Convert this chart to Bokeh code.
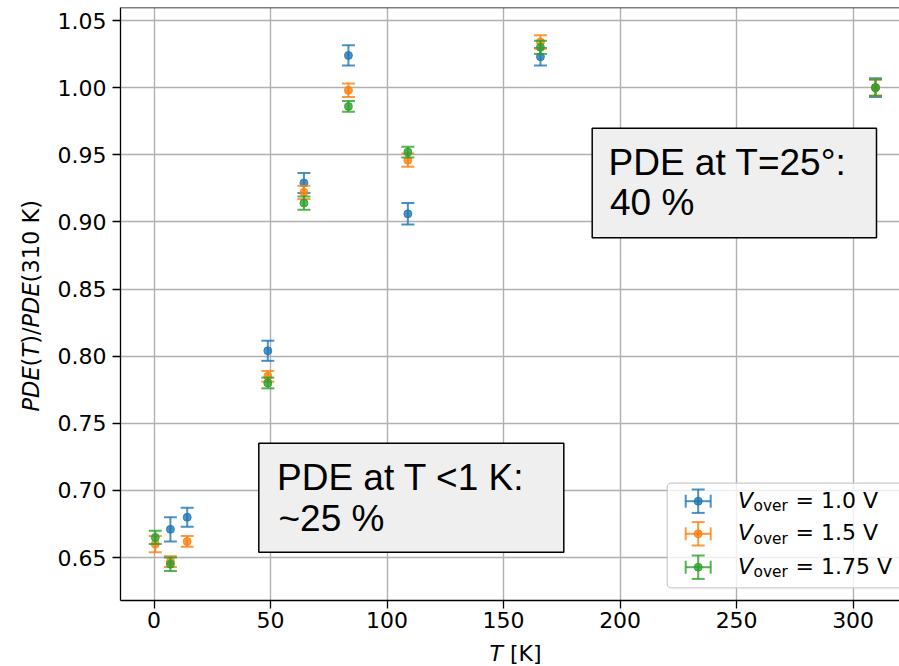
import numpy as np
from bokeh.plotting import figure
from bokeh.layouts import column, row
from bokeh.models import Label, BoxAnnotation, Span, FixedTicker, Range1d
from bokeh.embed import file_html
from bokeh.resources import INLINE

# ---------------- data ----------------
T_blue = [7.0, 14.2, 48.8, 64.3, 83.4, 108.9, 165.8, 309.6]
pde_blue = [0.671, 0.680, 0.804, 0.929, 1.024, 0.906, 1.023, 1.000]
err_blue = [0.009, 0.007, 0.0075, 0.0075, 0.0075, 0.008, 0.0065, 0.007]

T_orange = [0.5, 7.0, 14.2, 48.8, 64.3, 83.4, 108.9, 165.8, 309.6]
pde_orange = [0.660, 0.647, 0.662, 0.785, 0.922, 0.998, 0.946, 1.034, 1.000]
err_orange = [0.006, 0.004, 0.004, 0.004, 0.005, 0.005, 0.005, 0.005, 0.006]

T_green = [0.5, 7.0, 48.8, 64.3, 83.4, 108.9, 165.8, 309.6]
pde_green = [0.665, 0.645, 0.780, 0.914, 0.986, 0.952, 1.030, 1.000]
err_green = [0.005, 0.005, 0.004, 0.005, 0.004, 0.004, 0.005, 0.006]

series_names = ["1.0 V", "1.5 V", "1.75 V"]
series_colors = ["#1f77b4", "#ff7f0e", "#2ca02c"]

x_ticks = [0, 50, 100, 150, 200, 250, 300]
y_ticks = [0.65, 0.70, 0.75, 0.80, 0.85, 0.90, 0.95, 1.00, 1.05]
y_tick_labels = ["0.65", "0.70", "0.75", "0.80", "0.85", "0.90", "0.95", "1.00", "1.05"]

box1_lines = ["PDE at T=25°:", "40 %"]
box2_lines = ["PDE at T <1 K:", "~25 %"]

# ---------------- layout ----------------
W, H = 899, 666
LW = 45            # width of the y-label strip
MH = 642           # height of the main figure
FL, FR, FT, FB = 120, 899, 7, 600   # frame edges in page pixels
X0, X1 = -14.42, 319.9
Y0, Y1 = 0.618, 1.0597
BASE_K = 0.34      # Bokeh "alphabetic" anchor sits this many em below the glyph baseline


def px2x(px):
    return X0 + (px - FL) / (FR - FL) * (X1 - X0)


def px2y(py):
    return Y1 - (py - FT) / (FB - FT) * (Y1 - Y0)


def base(py, fs):
    return py - BASE_K * fs


p = figure(width=W - LW, height=MH, x_range=Range1d(X0, X1), y_range=Range1d(Y0, Y1),
           output_backend="svg", toolbar_location=None, title=None,
           min_border_left=FL - LW, min_border_right=0, min_border_top=FT,
           min_border_bottom=MH - FB)
p.outline_line_color = None
p.background_fill_color = "white"
p.border_fill_color = "white"

DV = "DejaVu Sans"
FSN = 22.0
FS = "22px"
for ax in (p.xaxis[0], p.yaxis[0]):
    ax.axis_line_color = "black"
    ax.axis_line_width = 1.3
    ax.major_tick_line_color = "black"
    ax.major_tick_line_width = 1.3
    ax.major_tick_out = 8
    ax.major_tick_in = 0
    ax.minor_tick_out = 0
    ax.minor_tick_in = 0
    ax.major_label_text_font = DV
    ax.major_label_text_font_size = FS
    ax.major_label_text_color = "black"
    ax.axis_label = None

p.xaxis.ticker = FixedTicker(ticks=x_ticks)
p.yaxis.ticker = FixedTicker(ticks=y_ticks)
p.yaxis.major_label_overrides = {t: s for t, s in zip(y_ticks, y_tick_labels)}
p.xaxis.major_label_standoff = 3
p.yaxis.major_label_standoff = 6

p.grid.grid_line_color = "#b0b0b0"
p.grid.grid_line_width = 1.4

p.add_layout(Span(location=Y1, dimension="width", line_color="black", line_width=1.3))

# ---------------- data marks ----------------
all_series = [(T_blue, pde_blue, err_blue), (T_orange, pde_orange, err_orange),
              (T_green, pde_green, err_green)]
for (T, v, e), c in zip(all_series, series_colors):
    T = np.array(T)
    v = np.array(v)
    e = np.array(e)
    p.segment(x0=T, y0=v - e, x1=T, y1=v + e, line_color=c, line_width=2, line_alpha=0.8)
    p.scatter(x=np.concatenate([T, T]), y=np.concatenate([v - e, v + e]), marker="dash",
              size=13, line_color=c, line_width=2, line_alpha=0.8)
    p.scatter(x=T, y=v, marker="circle", size=8, fill_color=c, line_color=c,
              fill_alpha=0.8, line_alpha=0.8)

# ---------------- text boxes ----------------
LS = "Liberation Sans"
BFS = 37.0


def text_box(l, r, t, b, lines, xs, bases):
    p.add_layout(BoxAnnotation(left=px2x(l), right=px2x(r), top=px2y(t), bottom=px2y(b),
                               fill_color="#efefef", fill_alpha=1.0, line_color="black",
                               line_width=1.5, line_alpha=1.0))
    for s, x, yb in zip(lines, xs, bases):
        p.add_layout(Label(x=px2x(x), y=px2y(base(yb, BFS)), text=s, text_font=LS,
                           text_font_size="%gpx" % BFS, text_color="black",
                           text_align="left", text_baseline="alphabetic"))


text_box(591.7, 876, 127.7, 237.3, box1_lines, [608, 609.5], [175, 215])
text_box(258.3, 563.3, 442.7, 551.7, box2_lines, [276.5, 278], [490, 530.7])

# ---------------- legend ----------------
p.add_layout(BoxAnnotation(left=px2x(666.7), right=px2x(930), top=px2y(482.7),
                           bottom=px2y(587.3), fill_color="white", fill_alpha=0.8,
                           line_color="#cccccc", line_width=1.3, line_alpha=1.0,
                           border_radius=4))
rows = [500.7, 533.3, 566.7]
mx = 697.7
SFS = 15.4
for cy, c, name in zip(rows, series_colors, series_names):
    rs = []
    rs.append(p.segment(x0=[px2x(mx - 12.5)], y0=[px2y(cy)], x1=[px2x(mx + 12.5)], y1=[px2y(cy)],
                        line_color=c, line_width=2, line_alpha=0.8))
    rs.append(p.segment(x0=[px2x(mx)], y0=[px2y(cy - 11.7)], x1=[px2x(mx)], y1=[px2y(cy + 11.7)],
                        line_color=c, line_width=2, line_alpha=0.8))
    rs.append(p.scatter(x=[px2x(mx), px2x(mx)], y=[px2y(cy - 11.7), px2y(cy + 11.7)],
                        marker="dash", size=13, line_color=c, line_width=2, line_alpha=0.8))
    rs.append(p.scatter(x=[px2x(mx - 12.5), px2x(mx + 12.5)], y=[px2y(cy), px2y(cy)],
                        marker="dash", angle=np.pi / 2, size=13, line_color=c, line_width=2,
                        line_alpha=0.8))
    rs.append(p.scatter(x=[px2x(mx)], y=[px2y(cy)], marker="circle", size=8, fill_color=c,
                        line_color=c, fill_alpha=0.8, line_alpha=0.8))
    for r in rs:
        r.level = "overlay"
    p.add_layout(Label(x=px2x(737.5), y=px2y(base(cy + 6.5, FSN)), text="V", text_font=DV,
                       text_font_style="italic", text_font_size=FS, text_color="black",
                       text_baseline="alphabetic", level="overlay"))
    p.add_layout(Label(x=px2x(753), y=px2y(base(cy + 10, SFS)), text="over", text_font=DV,
                       text_font_size="%gpx" % SFS, text_color="black",
                       text_baseline="alphabetic", level="overlay"))
    p.add_layout(Label(x=px2x(795), y=px2y(base(cy + 6.5, FSN)), text="= " + name,
                       text_font=DV, text_font_size=FS, text_color="black",
                       text_baseline="alphabetic", level="overlay"))

# ---------------- axis-label strips ----------------
# the strip's frame is aligned with the main frame (rows align plot borders)
yfig = figure(width=LW, height=MH, x_range=Range1d(0, LW), y_range=Range1d(FB, FT),
              output_backend="svg", toolbar_location=None, title=None, min_border=0,
              x_axis_type=None, y_axis_type=None)
yfig.outline_line_color = None
YFS = 22.5
yl_pieces = [("PDE", "italic", 2.005), ("(", "normal", 0.390), ("T", "italic", 0.611),
             (")/", "normal", 0.727), ("PDE", "italic", 2.005), ("(310 K)", "normal", 3.662)]
ypos = 411.0
for s, st, w in yl_pieces:
    yfig.add_layout(Label(x=38.5 - BASE_K * YFS, y=ypos, text=s, text_font=DV,
                          text_font_style=st, text_font_size="%gpx" % YFS,
                          text_color="black", angle=np.pi / 2,
                          text_align="left", text_baseline="alphabetic"))
    ypos -= w * YFS

xfig = figure(width=W, height=H - MH, x_range=Range1d(0, W), y_range=Range1d(H, MH),
              output_backend="svg", toolbar_location=None, title=None, min_border=0,
              x_axis_type=None, y_axis_type=None)
xfig.outline_line_color = None
xl_pieces = [("T", "italic", 489.0), ("[K]", "normal", 489.0 + 0.929 * FSN)]
for s, st, x in xl_pieces:
    xfig.add_layout(Label(x=x, y=base(660.5, FSN), text=s, text_font=DV, text_font_style=st,
                          text_font_size=FS, text_color="black", text_baseline="alphabetic"))

layout = column(row(yfig, p, spacing=0), xfig, spacing=0)
open("out.html", "w").write(file_html(layout, INLINE))
